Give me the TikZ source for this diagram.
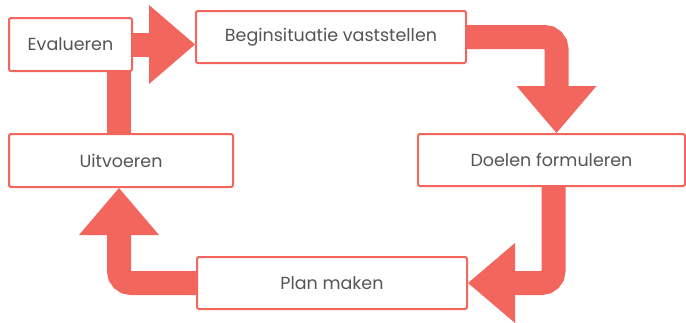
\documentclass[tikz,border=0pt]{standalone}
\usepackage{fontspec}
\setmainfont{Poppins}
\usetikzlibrary{calc}
\definecolor{salmon}{HTML}{F2665E}
\definecolor{txt}{HTML}{555555}
\begin{document}
\begin{tikzpicture}[x=1pt,y=-1pt,
  box/.style={draw=salmon, line width=2pt, rounded corners=2pt, fill=white, text=txt,
    font=\fontsize{17.5}{21}\selectfont, inner sep=0pt},
  shaft/.style={draw=salmon, line width=24pt, rounded corners=12pt},
  head/.style={fill=salmon}]
\useasboundingbox (0,0) rectangle (686,322);
\node[box, minimum width=123pt, minimum height=53pt] (eval) at (70.5,44.5) {Evalueren};
\node[box, minimum width=270pt, minimum height=52pt] (begin) at (331,37) {Beginsituatie vaststellen};
\node[box, minimum width=267pt, minimum height=52pt] (doel) at (551.5,160) {Doelen formuleren};
\node[box, minimum width=224pt, minimum height=53pt] (uit) at (121,160.5) {Uitvoeren};
\node[box, minimum width=270pt, minimum height=52pt] (plan) at (332,283) {Plan maken};
% Evalueren -> Beginsituatie
\draw[shaft] (eval.east) -- ++(16,0) coordinate (h1);
\fill[head] ($(h1)+(0,-39.5)$) -- (begin.west |- eval.east) -- ($(h1)+(0,39.5)$) -- cycle;
% Uitvoeren -- Evalueren
\coordinate (b2) at ($(uit.north)+(-2,0)$);
\draw[shaft] (b2) -- (b2 |- eval.south);
% Beginsituatie -> Doelen
\coordinate (t3) at ($(doel.north)+(5,0)$);
\draw[shaft] (begin.east) -| ($(t3)+(0,-47)$);
\fill[head] (t3) -- ++(-40,-47) -- ++(80,0) -- cycle;
% Doelen -> Plan
\coordinate (t4) at (plan.east);
\draw[shaft] ($(doel.south)+(2,0)$) |- ($(t4)+(47,0)$);
\fill[head] (t4) -- ++(47,-40) -- ++(0,80) -- cycle;
% Plan -> Uitvoeren
\coordinate (t5) at ($(uit.south)+(-2,0)$);
\draw[shaft] (plan.west) -| ($(t5)+(0,47)$);
\fill[head] (t5) -- ++(-40,47) -- ++(80,0) -- cycle;
\end{tikzpicture}
\end{document}
